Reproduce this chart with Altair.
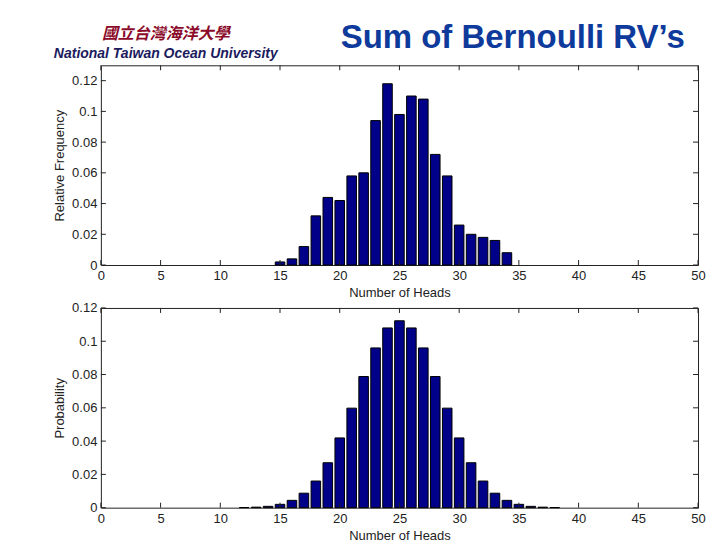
import altair as alt
import pandas as pd

# ---------------- data ----------------
heads_sim = list(range(15, 35))
rel_freq = [0.002, 0.004, 0.012, 0.032, 0.044, 0.042, 0.058, 0.060, 0.094, 0.118,
            0.098, 0.110, 0.108, 0.072, 0.058, 0.026, 0.020, 0.018, 0.016, 0.008]

heads_pmf = list(range(12, 39))
prob = [0.0001, 0.0003, 0.0008, 0.0020, 0.0044, 0.0087, 0.0160, 0.0270, 0.0419,
        0.0598, 0.0788, 0.0960, 0.1080, 0.1123, 0.1080, 0.0960, 0.0788, 0.0598,
        0.0419, 0.0270, 0.0160, 0.0087, 0.0044, 0.0020, 0.0008, 0.0003, 0.0001]

x_ticks = [0, 5, 10, 15, 20, 25, 30, 35, 40, 45, 50]
y_ticks = [0, 0.02, 0.04, 0.06, 0.08, 0.1, 0.12]

x_title = "Number of Heads"
y_title_top = "Relative Frequency"
y_title_bottom = "Probability"
slide_title = "Sum of Bernoulli RV\u2019s"
school_zh = "國立台灣海洋大學"
school_en = "National Taiwan Ocean University"

# ---------------- styling ----------------
W, H = 598, 200
XMAX = 50
BAR_FILL = "#000088"
AXIS_COLOR = "#222222"
FONT = "Liberation Sans"
HALF_BAR = 0.4
TICK_PX = 5


def panel(ks, vals, ymax, ytitle, title=None):
    df = pd.DataFrame({"k": ks, "v": vals})
    df["x0"] = df["k"] - HALF_BAR
    df["x1"] = df["k"] + HALF_BAR
    df["base"] = 0.0
    xs = alt.Scale(domain=[0, XMAX], nice=False, zero=False)
    ys = alt.Scale(domain=[0, ymax], nice=False)
    x_axis = alt.Axis(values=x_ticks, format="d", ticks=False, domain=False,
                      grid=False, labelPadding=5, titlePadding=4,
                      labelFlush=False, labelOverlap=False)
    y_axis = alt.Axis(values=y_ticks, format=".2~f", ticks=False, domain=False,
                      grid=False, labelPadding=4, titlePadding=5,
                      labelFlush=False, labelOverlap=False)

    def X(f):
        return alt.X(f, scale=xs, axis=x_axis, title=x_title)

    def Y(f):
        return alt.Y(f, scale=ys, axis=y_axis, title=ytitle)

    bars = alt.Chart(df).mark_bar(
        fill=BAR_FILL, stroke="black", strokeWidth=1, opacity=1
    ).encode(x=X("x0:Q"), x2="x1:Q", y=Y("v:Q"), y2="base:Q")

    fy = ymax * TICK_PX / H
    fx = XMAX * TICK_PX / W
    tx = pd.DataFrame({"t": x_ticks})
    tx["b0"] = 0.0
    tx["b1"] = fy
    tx["u0"] = ymax
    tx["u1"] = ymax - fy
    ty = pd.DataFrame({"t": y_ticks})
    ty["l0"] = 0.0
    ty["l1"] = fx
    ty["r0"] = float(XMAX)
    ty["r1"] = XMAX - fx

    rule = dict(color=AXIS_COLOR, strokeWidth=1)
    bottom = alt.Chart(tx).mark_rule(**rule).encode(x=X("t:Q"), y=Y("b0:Q"), y2="b1:Q")
    top = alt.Chart(tx).mark_rule(**rule).encode(x=X("t:Q"), y=Y("u0:Q"), y2="u1:Q")
    left = alt.Chart(ty).mark_rule(**rule).encode(y=Y("t:Q"), x=X("l0:Q"), x2="l1:Q")
    right = alt.Chart(ty).mark_rule(**rule).encode(y=Y("t:Q"), x=X("r0:Q"), x2="r1:Q")

    layer = alt.layer(bars, bottom, top, left, right).properties(width=W, height=H)
    if title is not None:
        layer = layer.properties(title=title)
    return layer


school_title = alt.TitleParams(
    text=school_zh, subtitle=school_en,
    anchor="start", frame="group", align="center", dx=65, offset=4,
    font="Noto Sans CJK TC", fontSize=16, fontStyle="italic", fontWeight="bold",
    color="#8B0A2A",
    subtitleFont=FONT, subtitleFontSize=14, subtitleFontStyle="italic",
    subtitleFontWeight="bold", subtitleColor="#1B1B5E", subtitlePadding=5,
)

upper = panel(heads_sim, rel_freq, 0.13, y_title_top, title=school_title)
lower = panel(heads_pmf, prob, 0.12, y_title_bottom)

chart = alt.vconcat(upper, lower, spacing=0).properties(
    title=alt.TitleParams(
        text=slide_title, anchor="end", dx=-21, dy=30, offset=0,
        font=FONT, fontSize=33, fontWeight="bold", color="#0D3A9B",
    ),
    padding={"left": 45, "top": 14, "right": 5, "bottom": 0},
).configure_view(
    stroke=AXIS_COLOR, strokeWidth=1
).configure_axis(
    labelFont=FONT, labelFontSize=13, labelColor=AXIS_COLOR,
    titleFont=FONT, titleFontSize=13, titleFontWeight="normal", titleColor=AXIS_COLOR,
)

chart.save("out.html", embed_options={"renderer": "svg", "actions": False})
